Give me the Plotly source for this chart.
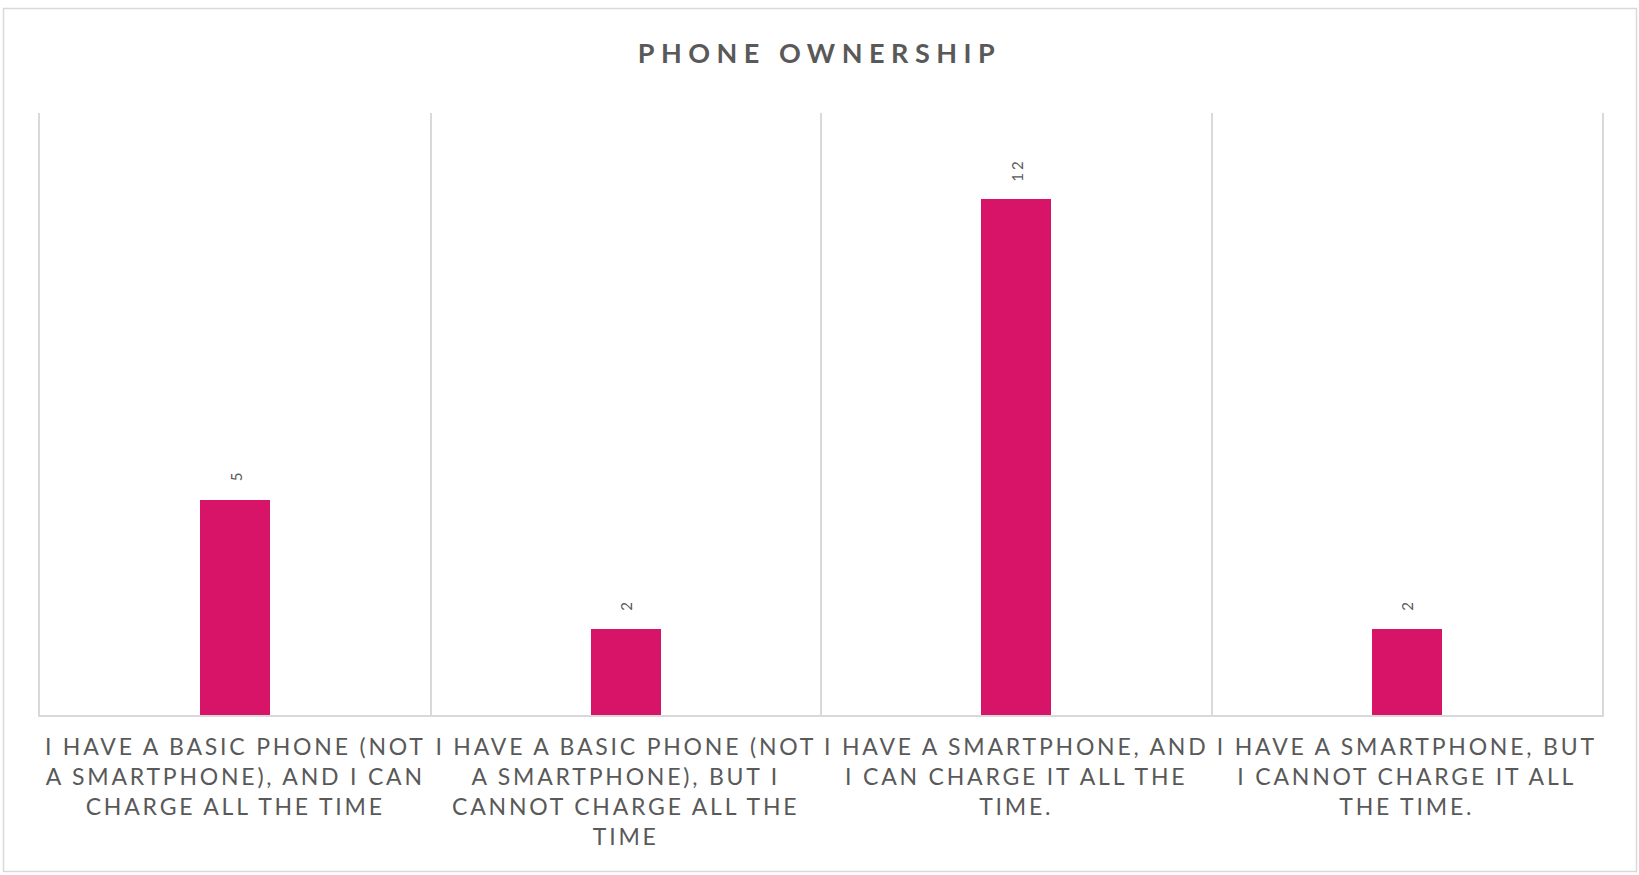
import plotly.graph_objects as go

categories = [
    "I have a basic phone (not a smartphone), and I can charge all the time",
    "I have a basic phone (not a smartphone), but I cannot charge all the time",
    "I have a smartphone, and I can charge it all the time.",
    "I have a smartphone, but I cannot charge it all the time.",
]
tick_labels = [
    "I HAVE A BASIC PHONE (NOT<br>A SMARTPHONE), AND I CAN<br>CHARGE ALL THE TIME",
    "I HAVE A BASIC PHONE (NOT<br>A SMARTPHONE), BUT I<br>CANNOT CHARGE ALL THE<br>TIME",
    "I HAVE A SMARTPHONE, AND<br>I CAN CHARGE IT ALL THE<br>TIME.",
    "I HAVE A SMARTPHONE, BUT<br>I CANNOT CHARGE IT ALL<br>THE TIME.",
]
counts = [5, 2, 12, 2]
title_text = "PHONE OWNERSHIP"

W, H = 1639, 875
ML, MR, MT, MB = 40, 37, 113, 160
PW, PH = W - ML - MR, H - MT - MB

BAR = "#D71468"
GRID = "#D9D9D9"
TXT = "#595959"
FONT = "Lato, 'Open Sans', sans-serif"

fig = go.Figure()
fig.add_trace(go.Bar(
    x=categories, y=counts, width=0.18,
    marker=dict(color=BAR, line=dict(width=0)),
    hoverinfo="x+y",
))

for c, v in zip(categories, counts):
    fig.add_annotation(
        x=c, y=v, text=str(v), textangle=-90, showarrow=False,
        yanchor="bottom", yshift=18,
        font=dict(family=FONT, size=15, color=TXT),
    )

# outer chart border
fig.add_shape(
    type="rect", xref="paper", yref="paper",
    x0=-(ML - 3.5) / PW, x1=1 + (MR - 2.5) / PW,
    y0=-(MB - 3.5) / PH, y1=1 + (MT - 8.5) / PH,
    line=dict(color=GRID, width=1.5), fillcolor="rgba(0,0,0,0)", layer="below",
)

fig.update_layout(
    width=W, height=H,
    margin=dict(l=ML, r=MR, t=MT, b=MB, pad=0),
    paper_bgcolor="white", plot_bgcolor="white",
    showlegend=False,
    title=dict(
        text="<b>" + title_text + "</b>", x=0.5, xanchor="center",
        xref="container", yref="container", y=1 - 54 / H, yanchor="middle",
        font=dict(family=FONT, size=27, color=TXT),
    ),
    xaxis=dict(
        type="category", tickmode="array", tickvals=categories, ticktext=tick_labels,
        range=[-0.5, 3.5], tickson="boundaries", ticks="",
        showgrid=True, gridcolor=GRID, gridwidth=1.5,
        showline=True, linecolor=GRID, linewidth=1.5,
        tickfont=dict(family=FONT, size=23, color=TXT),
        tickangle=0, ticklabelstandoff=11,
    ),
    yaxis=dict(
        range=[0, 14], showticklabels=False, showgrid=False,
        zeroline=False, showline=True, mirror=True,
        linecolor=GRID, linewidth=1.5, ticks="",
    ),
    bargap=0,
)

post = """
var gd = document.getElementById('{plot_id}');
function ls(){
  gd.querySelectorAll('.xtick text').forEach(function(t){t.style.letterSpacing='2.8px';});
  gd.querySelectorAll('.gtitle').forEach(function(t){t.style.letterSpacing='6.5px';});
  gd.querySelectorAll('.annotation-text').forEach(function(t){t.style.letterSpacing='3px';});
}
ls();
gd.on('plotly_afterplot', ls);
"""

fig.write_html("out.html", post_script=post)
